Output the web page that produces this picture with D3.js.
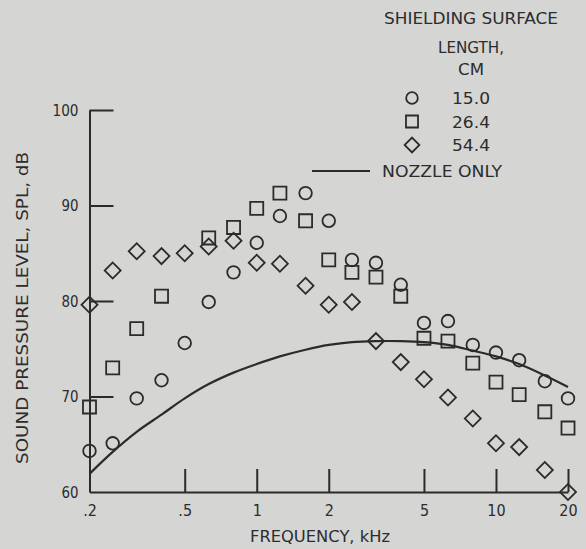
<!DOCTYPE html>
<html lang="en">

<head>
    <meta charset="UTF-8">
    <title>Sound pressure level vs frequency</title>
    <style>
        body {
            margin: 0;
            background: #d5d5d3;
        }

        svg text {
            font-family: "DejaVu Sans Condensed", "DejaVu Sans", sans-serif;
            fill: #2c2c2c;
        }
    </style>
    <script src="https://cdn.jsdelivr.net/npm/d3@7"></script>
</head>

<body>
</body>

<script>
    // one-third octave band centre frequencies, kHz
    const freqs = [0.2, 0.25, 0.315, 0.4, 0.5, 0.63, 0.8, 1, 1.25, 1.6, 2, 2.5, 3.15, 4, 5, 6.3, 8, 10, 12.5, 16, 20];

    // SPL, dB for each shielding surface length (null = no point)
    const spl150 = [64.3, 65.1, 69.8, 71.7, 75.6, 79.9, 83.0, 86.1, 88.9, 91.3, 88.4, 84.3, 84.0, 81.7, 77.7, 77.9, 75.4, 74.6, 73.8, 71.6, 69.8];
    const spl264 = [68.9, 73.0, 77.1, 80.5, null, 86.6, 87.7, 89.7, 91.3, 88.4, 84.3, 83.0, 82.5, 80.5, 76.1, 75.8, 73.5, 71.5, 70.2, 68.4, 66.7];
    const spl544 = [79.6, 83.2, 85.2, 84.7, 85.0, 85.7, 86.3, 84.0, 83.9, 81.6, 79.6, 79.9, 75.8, 73.6, 71.8, 69.9, 67.7, 65.1, 64.7, 62.3, 60.0];

    // nozzle only curve, read at the same bands
    const nozzle = [61.9, 64.2, 66.3, 68.1, 69.8, 71.3, 72.5, 73.4, 74.2, 74.9, 75.4, 75.7, 75.8, 75.8, 75.7, 75.4, 74.8, 74.2, 73.4, 72.2, 71.0];

    const xTicks = [0.2, 0.5, 1, 2, 5, 10, 20];
    const xTickLabels = [".2", ".5", "1", "2", "5", "10", "20"];
    const yTicks = [60, 70, 80, 90, 100];

    const legendTitle = ["SHIELDING SURFACE", "LENGTH,", "CM"];
    const legendLabels = ["15.0", "26.4", "54.4"];

    const size = { width: 586, height: 549 };
    const ink = "#2b2b2b";

    const svg = d3.select("body").append("svg")
        .attr("width", size.width)
        .attr("height", size.height);

    const x = d3.scaleLog().domain([0.2, 20]).range([89.5, 568]);
    const y = d3.scaleLinear().domain([60, 100]).range([492, 110]);

    // y axis: ticks point into the plot, labels on the left
    const yAxis = svg.append("g")
        .attr("transform", `translate(${x(0.2)},0)`)
        .call(d3.axisLeft(y).tickValues(yTicks).tickSizeInner(-24).tickSizeOuter(0).tickPadding(11));
    yAxis.select(".domain").attr("stroke", ink).attr("stroke-width", 2);
    yAxis.selectAll(".tick line").attr("stroke", ink).attr("stroke-width", 2)
        .filter(d => d === 60).remove();
    yAxis.selectAll(".tick text").attr("font-size", 16).attr("fill", ink)
        .attr("textLength", d => d === 100 ? 26 : 17).attr("lengthAdjust", "spacingAndGlyphs");

    // x axis
    const xAxis = svg.append("g")
        .attr("transform", `translate(0,${y(60)})`)
        .call(d3.axisBottom(x).tickValues(xTicks).tickSizeInner(-23).tickSizeOuter(0).tickPadding(13)
            .tickFormat((d, i) => xTickLabels[i]));
    xAxis.select(".domain").attr("stroke", ink).attr("stroke-width", 2);
    xAxis.selectAll(".tick line").attr("stroke", ink).attr("stroke-width", 2)
        .filter(d => d === 0.2).remove();
    xAxis.selectAll(".tick text").attr("font-size", 16).attr("fill", ink);

    // axis titles
    svg.append("text")
        .attr("x", 320).attr("y", 542)
        .attr("text-anchor", "middle")
        .attr("font-size", 15)
        .attr("textLength", 140).attr("lengthAdjust", "spacingAndGlyphs")
        .text("FREQUENCY, kHz");

    svg.append("text")
        .attr("transform", "translate(28,308) rotate(-90)")
        .attr("text-anchor", "middle")
        .attr("font-size", 15)
        .attr("textLength", 312).attr("lengthAdjust", "spacingAndGlyphs")
        .text("SOUND PRESSURE LEVEL, SPL, dB");

    // nozzle only line
    const line = d3.line()
        .x((d, i) => x(freqs[i]))
        .y(d => y(d))
        .curve(d3.curveCatmullRom);
    svg.append("path")
        .datum(nozzle)
        .attr("d", line)
        .attr("fill", "none")
        .attr("stroke", ink)
        .attr("stroke-width", 2.2);

    // marker shapes
    const shapes = [
        { sym: d3.symbolCircle, size: 125, rot: 0 },
        { sym: d3.symbolSquare, size: 170, rot: 0 },
        { sym: d3.symbolSquare, size: 128, rot: 45 }
    ];
    const seriesList = [spl150, spl264, spl544];

    seriesList.forEach((vals, s) => {
        const pts = vals.map((v, i) => ({ f: freqs[i], v })).filter(d => d.v !== null);
        svg.append("g").selectAll("path")
            .data(pts)
            .join("path")
            .attr("transform", d => `translate(${x(d.f)},${y(d.v)}) rotate(${shapes[s].rot})`)
            .attr("d", d3.symbol(shapes[s].sym, shapes[s].size))
            .attr("fill", "none")
            .attr("stroke", ink)
            .attr("stroke-width", 1.8);
    });

    // legend
    const legend = svg.append("g");
    legend.selectAll("text.title")
        .data(legendTitle)
        .join("text")
        .attr("class", "title")
        .attr("x", 471)
        .attr("y", (d, i) => [24, 53, 75][i])
        .attr("text-anchor", "middle")
        .attr("font-size", 15)
        .attr("textLength", (d, i) => [174, 66, 26][i]).attr("lengthAdjust", "spacingAndGlyphs")
        .text(d => d);

    legendLabels.forEach((lab, i) => {
        const ly = 98 + i * 23.5;
        legend.append("path")
            .attr("transform", `translate(412,${ly}) rotate(${shapes[i].rot})`)
            .attr("d", d3.symbol(shapes[i].sym, shapes[i].size * 0.85))
            .attr("fill", "none")
            .attr("stroke", ink)
            .attr("stroke-width", 1.8);
        legend.append("text")
            .attr("x", 452).attr("y", ly + 6)
            .attr("font-size", 15)
            .attr("textLength", 38).attr("lengthAdjust", "spacingAndGlyphs")
            .text(lab);
    });

    legend.append("line")
        .attr("x1", 312).attr("x2", 370)
        .attr("y1", 171).attr("y2", 171)
        .attr("stroke", ink)
        .attr("stroke-width", 2.2);
    legend.append("text")
        .attr("x", 382).attr("y", 177)
        .attr("font-size", 15)
        .attr("textLength", 120).attr("lengthAdjust", "spacingAndGlyphs")
        .text("NOZZLE ONLY");
</script>

</html>
